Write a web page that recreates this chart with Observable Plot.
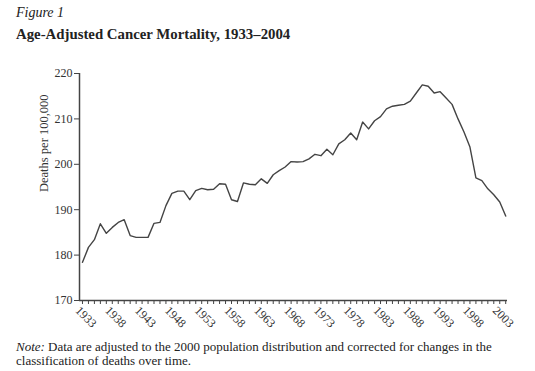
<!DOCTYPE html>
<html>
<head>
<meta charset="utf-8">
<script src="https://cdn.jsdelivr.net/npm/d3@7"></script>
<script src="https://cdn.jsdelivr.net/npm/@observablehq/plot@0.6"></script>
<style>
  html, body { margin: 0; padding: 0; background: #fff; }
  body { width: 535px; height: 371px; position: relative; overflow: hidden; font-family: "Liberation Serif", serif; color: #222; }
  #fig { position: absolute; left: 16px; top: 5px; font-style: italic; font-size: 14px; }
  #title { position: absolute; left: 16px; top: 26px; font-weight: bold; font-size: 14.8px; }
  #chart { position: absolute; left: 0; top: 50px; }
  .note { position: absolute; font-size: 13px; line-height: 14px; white-space: nowrap; }
</style>
</head>
<body>
<div id="fig">Figure 1</div>
<div id="title">Age-Adjusted Cancer Mortality, 1933–2004</div>
<div id="chart"></div>
<span class="note" style="left:16px; top:340px; font-style:italic;">Note:</span>
<span class="note" style="left:48px; top:340px;">Data are adjusted to the 2000 population distribution and corrected for changes in the</span>
<span class="note" style="left:16px; top:354px;">classification of deaths over time.</span>
<script>
const years = [1933,1934,1935,1936,1937,1938,1939,1940,1941,1942,1943,1944,1945,1946,1947,1948,1949,1950,1951,1952,1953,1954,1955,1956,1957,1958,1959,1960,1961,1962,1963,1964,1965,1966,1967,1968,1969,1970,1971,1972,1973,1974,1975,1976,1977,1978,1979,1980,1981,1982,1983,1984,1985,1986,1987,1988,1989,1990,1991,1992,1993,1994,1995,1996,1997,1998,1999,2000,2001,2002,2003,2004];
const mortality = [178.4,181.7,183.4,186.9,184.8,186.1,187.2,187.8,184.3,183.9,183.9,183.9,187.0,187.2,190.9,193.6,194.1,194.1,192.2,194.2,194.7,194.4,194.5,195.7,195.6,192.2,191.8,195.9,195.6,195.5,196.8,195.8,197.7,198.6,199.4,200.6,200.5,200.6,201.2,202.2,201.9,203.3,202.1,204.5,205.4,206.9,205.4,209.3,207.8,209.6,210.5,212.2,212.8,213.0,213.2,213.9,215.7,217.5,217.2,215.7,216.0,214.6,213.2,210.0,207.1,203.8,197.0,196.4,194.6,193.3,191.7,188.6];
const xTickLabels = [1933,1938,1943,1948,1953,1958,1963,1968,1973,1978,1983,1988,1993,1998,2003];
const yTicks = [170,180,190,200,210,220];
const yLabel = "Deaths per 100,000";

const data = years.map((y, i) => ({year: y, value: mortality[i]}));

const chart = Plot.plot({
  width: 535,
  height: 290,
  marginLeft: 79,
  marginRight: 28,
  marginTop: 23,
  marginBottom: 40,
  style: {fontFamily: "Liberation Serif, serif", fontSize: "12px", color: "#333", background: "transparent"},
  x: {domain: [1932.5, 2004.3]},
  y: {domain: [170, 220]},
  marks: [
    Plot.axisY({ticks: yTicks, tickSize: 5, tickPadding: 2, label: null, tickFormat: d => String(d), stroke: "#444", fontSize: 12}),
    Plot.axisX({ticks: years, tickSize: 4, tickFormat: () => "", label: null, stroke: "#444"}),
    Plot.axisX({ticks: xTickLabels, tickSize: 0, tickRotate: 45, textAnchor: "start", tickPadding: 8, dx: -5, label: null, tickFormat: d => String(d), fontSize: 12}),
    Plot.ruleX([1932.5], {stroke: "#444", strokeWidth: 1.5}),
    Plot.ruleY([170], {stroke: "#444", strokeWidth: 1.5}),
    Plot.text([yLabel], {frameAnchor: "left", rotate: -90, dx: -36, dy: 5, fontSize: 12.5, fill: "#333"}),
    Plot.line(data, {x: "year", y: "value", stroke: "#444", strokeWidth: 1.4})
  ]
});
document.getElementById("chart").appendChild(chart);
</script>
</body>
</html>
